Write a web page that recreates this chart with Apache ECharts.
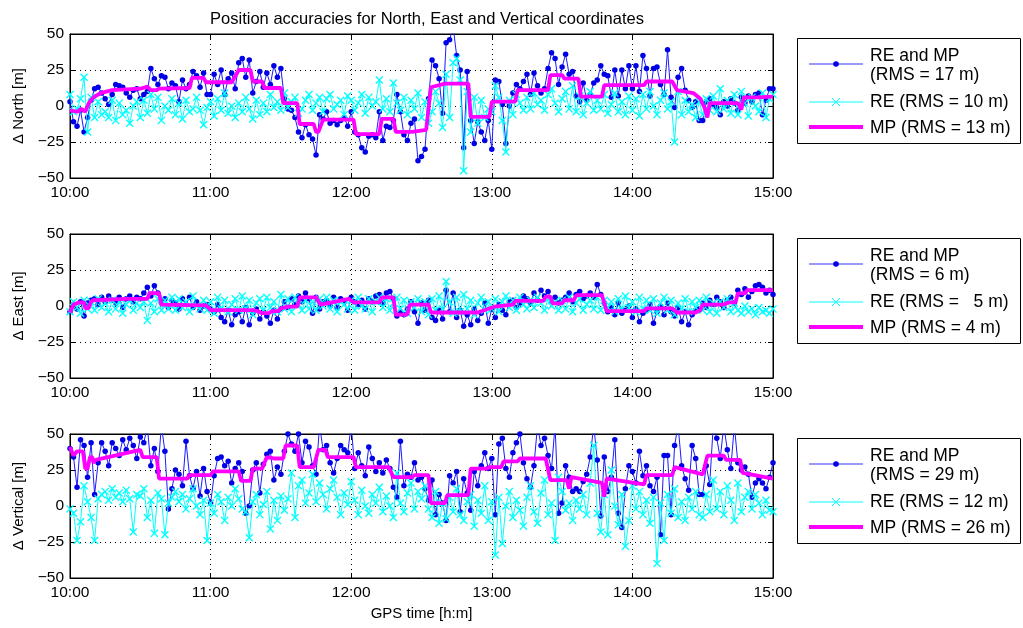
<!DOCTYPE html>
<html><head><meta charset="utf-8">
<script src="https://cdn.jsdelivr.net/npm/echarts@6/dist/echarts.min.js"></script>
<style>html,body{margin:0;padding:0;background:#fff}#c{width:1023px;height:628px}</style>
</head><body><div id="c"></div>
<script>
const STEP = 1.5; // minutes between samples, starting 10:00
const xTickLabels = ['10:00','11:00','12:00','13:00','14:00','15:00'];
const yTicks = [-50,-25,0,25,50];
const titleText = 'Position accuracies for North, East and Vertical coordinates';
const xName = 'GPS time [h:m]';
const yNames = ['\u0394 North [m]','\u0394 East [m]','\u0394 Vertical [m]'];
const legendBlue = [['RE and MP','(RMS = 17 m)'],['RE and MP','(RMS = 6 m)'],['RE and MP','(RMS = 29 m)']];
const legendCyan = ['RE (RMS = 10 m)','RE (RMS =   5 m)','RE (RMS = 12 m)'];
const legendMag = ['MP (RMS = 13 m)','MP (RMS = 4 m)','MP (RMS = 26 m)'];

// ---- North ----
const north_REMP = [
3,-11,-14,-3,-18,-8,4,12,13,9,
5,1,8,15,14,13,9,6,11,12,
5,8,10,26,19,15,21,20,12,16,
14,3,18,12,15,24,21,13,23,8,
8,22,15,25,8,19,23,12,30,33,
20,32,9,17,24,13,23,15,28,20,
26,5,-2,-3,-8,-18,-22,-13,-20,-23,
-34,-6,-9,-4,-12,-10,-13,-10,-8,-14,
-4,-18,-20,-29,-32,-21,-20,-22,-4,-24,
-14,-15,-10,8,-4,-20,-24,-12,-9,-38,
-35,-30,5,32,28,19,-5,44,46,55,
35,25,-29,24,-10,-26,-11,-18,-24,-10,
-30,18,17,1,-26,0,9,15,12,17,
22,8,23,14,9,12,26,37,33,15,
27,36,22,24,7,3,16,4,8,16,
18,28,22,21,6,25,7,25,12,28,
12,28,10,35,26,7,26,27,15,8,
39,6,-1,20,26,11,4,-1,3,-10,
-10,3,5,1,-1,-6,3,0,5,2,
-3,6,2,7,3,8,9,-6,4,12,
12];
const north_RE = [
8,-4,-2,5,20,-18,6,-8,3,-6,
-4,-8,4,-10,2,-6,-3,-12,0,3,
-8,4,-5,8,-2,6,-10,0,-3,5,
-6,2,-9,4,-4,-2,6,-3,-13,-1,
3,-7,5,-3,9,-5,0,-8,2,-4,
6,-2,-9,4,-6,2,-4,8,-1,3,
-3,9,-1,3,6,-5,-2,4,8,-3,
2,6,-4,5,8,-2,1,4,-6,7,
4,-3,2,8,-5,6,0,3,18,-2,
5,-4,16,2,-3,6,-6,4,-2,9,
-8,3,-12,-4,10,2,-15,22,-8,30,
33,18,-45,10,-18,6,-12,4,-8,-2,
-4,14,6,-10,-32,4,-6,8,2,-3,
6,-2,9,1,4,-3,8,12,2,-4,
5,10,-2,14,-4,7,-6,2,10,-3,
4,-2,8,-5,1,9,-4,3,-6,7,
-3,5,-7,8,-2,10,0,-6,4,9,
-2,3,-25,10,-6,4,-4,1,-8,3,
-6,5,-3,7,-4,12,-2,4,-5,8,
-6,10,2,-7,6,0,-4,9,-8,5,
8];
const north_MP_t = [0,3,5,6.5,8,10,13,18,30,33,34.5,37,38,51,52,57,58,69,71,72,77,78,82,83,90,91,97,98,104,105,106,108,121,122,132,133,138,139,146,152,154,160,170,171,179,180,190,191,204,205,210,211,217,218,227,228,245,246,257,259,266,269,271,272,273,285,286.5,287.5,293,300];
const north_MP_v = [-3,-4,-2,-4,2,6,9,11,12,13.5,11,11,12,12.5,19.5,19.5,16.5,16.5,22,25,25,17,17,12.5,12.5,2,2,-12.5,-12.5,-18,-18,-9.5,-9.5,-19.5,-19.5,-9,-9,-18,-18,-16.5,13,15.5,15.5,-7.5,-7.5,3,3,11,11,21.5,21.5,19,19,6.5,6.5,14.5,14.5,17,17,11,9,5,-2,-8,2,2,-2.5,6,6,6.5];

// ---- East ----
const east_REMP = [
-4,1,-2,3,-7,2,4,5,1,6,
3,7,4,2,6,-1,5,7,3,6,
5,9,13,7,14,9,2,5,-1,4,
2,-2,5,1,6,-1,3,-3,0,1,
-2,-4,1,-8,-11,-3,-13,-6,-4,-11,
-1,-13,-5,-2,-9,-4,-7,-12,-3,-9,
-2,3,-1,5,1,7,3,9,5,-5,
6,-2,3,4,0,6,-1,5,3,-3,
6,3,1,4,-2,5,3,7,8,2,
9,10,5,-7,-4,-6,-2,3,-4,-12,
2,-3,4,-8,-10,-3,-9,11,-4,9,
-8,-3,-14,-6,-13,-2,-10,-5,2,-12,
-2,-8,1,-3,-6,3,4,-1,2,7,
5,2,9,4,11,7,10,3,6,2,
4,6,9,3,8,10,5,7,9,6,
15,8,2,-4,-1,-6,2,-5,-3,0,
-8,-2,-11,-5,-3,1,-12,-4,0,-6,
2,-4,-7,-1,-11,-4,-13,-6,-3,-2,
2,-1,4,1,6,3,-1,4,6,2,
11,8,12,6,10,14,15,13,9,11,
8];
const east_RE = [
-4,3,-1,-5,4,-2,3,-3,5,-1,
2,-4,4,-2,3,-5,1,4,-3,2,
-1,3,-10,2,-4,5,-3,4,-2,6,
-3,5,-1,3,-4,7,0,-2,4,-3,
3,-5,6,-2,4,-4,1,5,-3,7,
-2,4,-6,2,5,-3,6,-1,3,-4,
8,-2,5,-4,6,1,-3,4,-2,3,
-3,5,0,6,-2,4,-4,3,1,-2,
4,-3,6,0,-2,5,-4,3,6,-1,
5,-3,2,6,-2,4,-5,3,-1,5,
-4,3,-6,5,-3,7,-2,17,3,-5,
6,-4,8,-2,4,-6,2,6,-3,3,
-2,5,-4,3,7,-1,4,-3,6,1,
-2,4,-1,6,2,-3,5,0,3,-3,
4,-2,6,-4,2,5,-3,1,4,-2,
6,-3,4,-1,3,-4,5,-2,7,-1,
3,-4,6,-2,4,-3,5,-5,2,6,
-3,4,-6,2,-2,5,-4,3,-1,4,
-3,6,-4,2,-5,3,-1,5,-4,2,
-3,-5,0,-4,-2,-6,-1,-4,-3,-5,
-2];
const east_MP_t = [0,1.5,4,6,6.5,8,9,10,24,33,34,38,39,58,60,78,80,82,85,86,89,90,93,97,98,105,107,119,121,132,133,138,139,144,145,153,154,174,181,189,190,202,203,205,206,210,211,215,216,227,229,245,246,257,259,267,269,270,279,281,284,285,288,289,300];
const east_MP_v = [-4.5,1,2.5,2.5,-1.5,-1.5,3,4,5,5,9,9,1,0.5,-2.8,-2.8,-3.5,-5,-5,-3.5,-3.5,-1.6,-0.5,-0.5,6,6,1,5,2.5,2.5,6,6,-6,-6,1,1,-4.5,-4.5,-0.5,1,3.5,3.5,6.5,6.5,1.8,1.8,4,4,7.5,7.5,-3.5,-3.5,-1.6,-1.6,-4.5,-4.5,-3,1,1,2.5,2.5,8.8,8.8,11,11];

// ---- Vertical ----
const vert_REMP = [
40,34,13,46,42,20,44,8,30,44,
38,28,44,40,35,46,39,47,42,33,
48,44,55,28,40,24,56,38,-2,12,
25,22,14,45,21,12,24,7,26,10,
2,21,33,34,28,31,16,26,30,24,
-5,0,25,30,9,29,36,38,18,27,
22,38,50,43,38,50,30,45,41,28,
22,56,39,42,30,23,33,42,39,37,
56,26,37,28,21,41,33,24,30,23,
32,26,13,6,45,14,22,20,30,18,
20,12,4,18,-6,8,2,-10,21,16,
24,-4,19,9,-3,24,14,28,37,26,
33,-6,43,47,26,20,37,44,50,30,
19,13,28,56,42,47,35,26,56,-5,
2,28,20,10,12,10,17,22,34,56,
32,-7,34,10,20,46,-5,-15,12,28,
24,16,38,21,28,14,10,20,-20,35,
35,-6,42,56,28,19,11,42,33,8,
8,28,15,56,47,33,56,39,26,56,
30,25,27,22,6,16,19,16,12,20,
30];
const vert_RE = [
-2,-5,-24,-11,14,3,-8,-24,5,8,
10,4,12,6,9,3,11,5,-18,8,
7,12,-8,4,-19,9,5,-20,2,6,
10,3,8,-2,5,12,0,-6,4,-24,
2,-5,8,3,-10,6,0,12,5,-2,
-4,-22,3,8,-6,1,10,-16,4,-10,
7,-3,5,23,-8,14,18,2,9,22,
3,16,8,-2,12,18,6,-6,9,1,
17,4,-6,11,0,-5,8,2,13,-4,
7,0,-8,23,2,-4,9,16,-2,10,
5,14,-2,-8,10,-12,2,-9,6,-4,
12,-6,-10,3,8,-14,4,-5,14,-10,
3,-34,6,-26,0,10,-8,4,-3,-14,
6,14,-4,-12,9,18,-6,2,-24,20,
10,-3,2,-10,4,-2,8,-6,16,42,
-5,-18,8,-20,25,0,-13,8,-28,-10,
14,-2,10,-6,4,-12,6,-40,2,-24,
8,-5,12,-8,3,-10,6,-2,10,-6,
-8,8,-4,18,-2,10,-6,14,4,-10,
16,-4,6,10,-2,8,2,-6,4,-3,
-4];
const vert_MP_t = [0,1.5,3,5.5,6.5,7.5,8.5,9.5,10,11,30,31,37,38,50,51,60,61,72,73,77,78,82,84,87,91,92,97,98,104,106,109,110,121,122,136,138,146,147,153,154,160,161,170,171,178,179,184,185,191,192,203,205,212,213,214,227,228,229,245,246,257,258,270,272,279,280,286,287,300];
const vert_MP_v = [41,35,38,38,26,26,34,34,30,32,39,34,34,19,19,21.5,21.5,24,24,17.5,17.5,26,26,34,33,33,42,42,27,27,39,39,34,34,27,27,20,20,21.5,21.5,2,2,7.5,7.5,26,26,27,27,31,31,33,33,18,18,12,20,16,6.5,19,15,21.5,21.5,27,22,35,35,32,32,23,19];

const panels = [
  {remp: north_REMP, re: north_RE, mpT: north_MP_t, mpV: north_MP_v},
  {remp: east_REMP, re: east_RE, mpT: east_MP_t, mpV: east_MP_v},
  {remp: vert_REMP, re: vert_RE, mpT: vert_MP_t, mpV: vert_MP_v}
];

const FONT = 'Liberation Sans, Arial, sans-serif';
const GL = 70, GW = 703, GH = 144, TOPS = [34, 234, 434];
const XSYM = 'path://M0,1.2L1.2,0L5,3.8L8.8,0L10,1.2L6.2,5L10,8.8L8.8,10L5,6.2L1.2,10L0,8.8L3.8,5Z';

const grids = [], xAxes = [], yAxes = [], series = [], graphics = [];
const fmtY = v => v < 0 ? '\u2212' + Math.abs(v) : String(v);
const fmtX = v => xTickLabels[Math.round(v / 60)] || '';
const LF = '17.5px ' + FONT;

panels.forEach((p, i) => {
  grids.push({left: GL, top: TOPS[i], width: GW, height: GH, show: true, borderColor: '#000', borderWidth: 1, backgroundColor: '#fff'});
  const dotted = {show: true, lineStyle: {color: '#000', type: [1, 4], width: 1}};
  const line = {show: true, onZero: false, lineStyle: {color: '#000'}};
  const tick = {inside: true, length: 5, lineStyle: {color: '#000'}};
  xAxes.push({gridIndex: i, type: 'value', min: 0, max: 300, interval: 60,
    axisLine: line, axisTick: tick,
    axisLabel: {formatter: fmtX, color: '#000', fontSize: 15.5, fontFamily: FONT, margin: 7},
    splitLine: dotted,
    name: i === 2 ? xName : '', nameLocation: 'middle', nameGap: 28, nameTextStyle: {color: '#000', fontSize: 15, fontFamily: FONT}});
  xAxes.push({gridIndex: i, type: 'value', position: 'top', min: 0, max: 300, interval: 60,
    axisLine: line, axisTick: tick, axisLabel: {show: false}, splitLine: {show: false}});
  yAxes.push({gridIndex: i, type: 'value', min: -50, max: 50, interval: 25,
    axisLine: line, axisTick: tick,
    axisLabel: {formatter: fmtY, color: '#000', fontSize: 15.5, fontFamily: FONT, margin: 6},
    splitLine: dotted,
    name: yNames[i], nameLocation: 'middle', nameGap: 39, nameRotate: 90,
    nameTextStyle: {color: '#000', fontSize: 15, fontFamily: FONT}});
  yAxes.push({gridIndex: i, type: 'value', position: 'right', min: -50, max: 50, interval: 25,
    axisLine: line, axisTick: tick, axisLabel: {show: false}, splitLine: {show: false}});
  const xi = 2 * i, yi = 2 * i;
  series.push({type: 'line', xAxisIndex: xi, yAxisIndex: yi, data: p.remp.map((v, k) => [k * STEP, v]),
    symbol: 'circle', symbolSize: 5.5, showSymbol: true, itemStyle: {color: '#0000e6'},
    lineStyle: {color: '#1a1aff', width: 1}, clip: true, z: 2});
  series.push({type: 'line', xAxisIndex: xi, yAxisIndex: yi, data: p.re.map((v, k) => [k * STEP, v]),
    symbol: XSYM, symbolSize: 8, showSymbol: true, itemStyle: {color: '#00ffff'},
    lineStyle: {color: '#00ffff', width: 1}, clip: true, z: 3});
  series.push({type: 'line', xAxisIndex: xi, yAxisIndex: yi, data: p.mpT.map((t, k) => [t, p.mpV[k]]),
    showSymbol: false, symbol: 'none', lineStyle: {color: '#ff00ff', width: 3.8}, clip: true, z: 4});

  // legend box
  const dy = 200 * i;
  graphics.push({type: 'rect', shape: {x: 797.5, y: 38.5 + dy, width: 223, height: 105}, style: {fill: '#fff', stroke: '#000', lineWidth: 1}, z: 10});
  graphics.push({type: 'line', shape: {x1: 809, y1: 64 + dy, x2: 863, y2: 64 + dy}, style: {stroke: '#3333ff', lineWidth: 1}, z: 11});
  graphics.push({type: 'circle', shape: {cx: 836, cy: 64 + dy, r: 2.8}, style: {fill: '#0000e6'}, z: 12});
  graphics.push({type: 'text', x: 870, y: 56 + dy, style: {text: legendBlue[i][0], font: LF, fill: '#000', verticalAlign: 'middle'}, z: 11});
  graphics.push({type: 'text', x: 870, y: 75 + dy, style: {text: legendBlue[i][1], font: LF, fill: '#000', verticalAlign: 'middle'}, z: 11});
  graphics.push({type: 'line', shape: {x1: 809, y1: 102 + dy, x2: 863, y2: 102 + dy}, style: {stroke: '#00ffff', lineWidth: 1}, z: 11});
  graphics.push({type: 'line', shape: {x1: 832, y1: 98 + dy, x2: 840, y2: 106 + dy}, style: {stroke: '#00ffff', lineWidth: 1}, z: 12});
  graphics.push({type: 'line', shape: {x1: 840, y1: 98 + dy, x2: 832, y2: 106 + dy}, style: {stroke: '#00ffff', lineWidth: 1}, z: 12});
  graphics.push({type: 'text', x: 870, y: 102 + dy, style: {text: legendCyan[i], font: LF, fill: '#000', verticalAlign: 'middle'}, z: 11});
  graphics.push({type: 'line', shape: {x1: 809, y1: 127 + dy, x2: 863, y2: 127 + dy}, style: {stroke: '#ff00ff', lineWidth: 3.8}, z: 11});
  graphics.push({type: 'text', x: 870, y: 128 + dy, style: {text: legendMag[i], font: LF, fill: '#000', verticalAlign: 'middle'}, z: 11});
});

const chart = echarts.init(document.getElementById('c'), null, {renderer: 'canvas'});
chart.setOption({
  animation: false,
  backgroundColor: '#fff',
  title: {text: titleText, left: 422, top: 6, textAlign: 'center', textStyle: {color: '#000', fontSize: 16.5, fontWeight: 'normal', fontFamily: FONT}},
  grid: grids, xAxis: xAxes, yAxis: yAxes, series: series, graphic: graphics
});
</script></body></html>
